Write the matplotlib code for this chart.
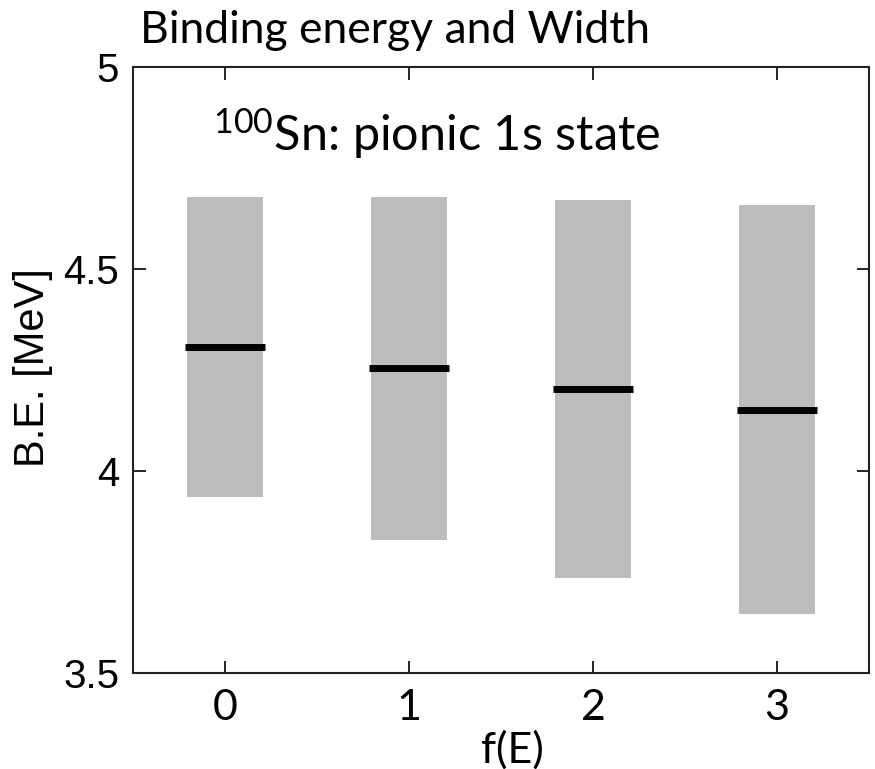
import numpy as np
import matplotlib.pyplot as plt

# pionic 1s state of 100Sn for different f(E)
fE = np.array([0, 1, 2, 3])
be = np.array([4.306, 4.253, 4.202, 4.151])      # binding energy [MeV]
width = np.array([0.742, 0.849, 0.937, 1.011])   # full width [MeV]

plt.rcParams['mathtext.fontset'] = 'custom'
plt.rcParams['mathtext.rm'] = 'Lato'
plt.rcParams['mathtext.it'] = 'Lato'

fig = plt.figure(figsize=(8.75, 7.69), dpi=100)
ax = fig.add_axes([133/875, 1-672.7/769, 736/875, 606/769])

# width shown as a band, B.E. as a thick bar
ax.bar(fE, width, bottom=be - width/2, width=0.41, color='#bbbcbb', zorder=1)
ax.hlines(be, fE - 0.22, fE + 0.22, color='black', lw=5, zorder=2)

ax.set_xlim(-0.5, 3.5)
ax.set_ylim(3.5, 5)
ax.set_xticks(fE)
ax.set_yticks([3.5, 4, 4.5, 5])
ax.set_yticklabels(['3.5', '4', '4.5', '5'], family='Liberation Sans', fontsize=29)
ax.set_xticklabels([str(v) for v in fE], family='Lato', fontsize=31)
ax.tick_params(direction='in', top=True, right=True, length=9, width=1.2)
ax.tick_params(axis='y', pad=10)
ax.tick_params(axis='x', pad=12)
for s in ax.spines.values():
    s.set_linewidth(1.5)
    s.set_color('#222222')

ax.text(0.109, 0.861, r'$^{100}$Sn: pionic 1s state', transform=ax.transAxes,
        family='Lato', fontsize=35, va='baseline', ha='left')

fig.text(140/875, 1-43/769, 'Binding energy and Width', family='Lato',
         fontsize=32, va='baseline', ha='left')
fig.text(512/875, 1-763/769, 'f(E)', family='Lato', fontsize=31,
         va='baseline', ha='center')
fig.text(33/875, 1-368/769, 'B.E. [MeV]', family='Liberation Sans',
         fontsize=30, rotation=90, va='center', ha='center')

fig.savefig('out.png', dpi=100)
